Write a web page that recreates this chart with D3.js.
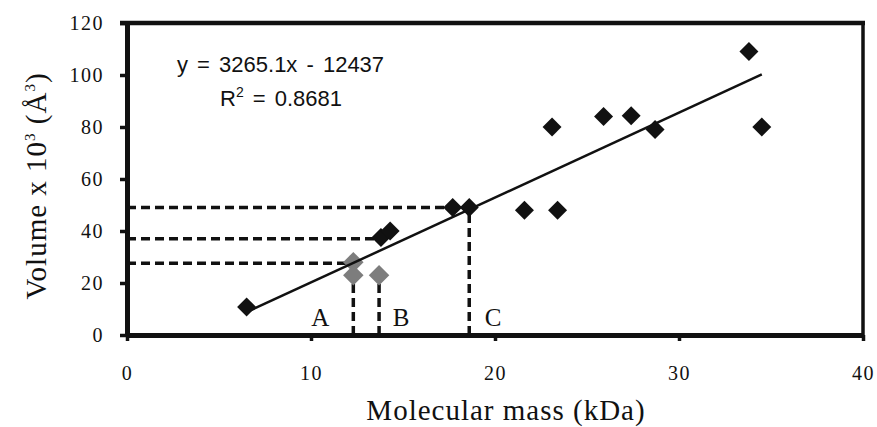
<!DOCTYPE html>
<html lang="en">
<head>
  <meta charset="UTF-8">
  <title>Volume vs molecular mass</title>
  <style>
    body { margin: 0; background: #fff; }
    svg text { fill: #111; }
  </style>
</head>
<body>
  <div id="chart"></div>

  <script src="https://d3js.org/d3.v7.min.js"></script>

  <script>
    // black diamonds
    const massBlack = [6.5, 13.8, 14.3, 17.7, 18.6, 21.6, 23.4, 23.1, 25.9, 27.4, 28.7, 33.8, 34.5];
    const volBlack  = [10.8, 37.5, 40, 49, 49, 48, 48, 80, 84, 84.3, 79, 109, 80];
    // grey diamonds (A / B proteins)
    const massGrey = [12.3, 12.3, 13.7];
    const volGrey  = [28, 23, 23];

    // trend line coefficients (per 10^3 A^3) and its x range
    const slope = 3.2651;
    const intercept = -12.437;
    const trendRange = [6.5, 34.5];

    // dashed guide lines
    const hGuides = [ { y: 49, x: 18.6 }, { y: 37, x: 13.8 }, { y: 27.6, x: 12.3 } ];
    const vGuides = [ { x: 12.3, y: 23 }, { x: 13.7, y: 23 }, { x: 18.6, y: 49 } ];

    const letters = ['A', 'B', 'C'];
    const letterX = [10.5, 14.9, 19.9];

    const xTicks = [0, 10, 20, 30, 40];
    const yTicks = [0, 20, 40, 60, 80, 100, 120];

    const width = 877, height = 427;
    const svg = d3.select('#chart').append('svg')
      .attr('width', width).attr('height', height);

    const x = d3.scaleLinear().domain([0, 40]).range([127, 863]);
    const y = d3.scaleLinear().domain([0, 120]).range([335, 23]);

    // frame: top and right borders
    svg.append('line')
      .attr('x1', x(0) - 7).attr('x2', x(40) + 2)
      .attr('y1', y(120)).attr('y2', y(120))
      .attr('stroke', '#111').attr('stroke-width', 4.5);
    svg.append('line')
      .attr('x1', x(40)).attr('x2', x(40))
      .attr('y1', y(120)).attr('y2', y(0))
      .attr('stroke', '#111').attr('stroke-width', 3.5);

    // axes
    const xAxis = svg.append('g')
      .attr('transform', `translate(0,${y(0)})`)
      .call(d3.axisBottom(x).tickValues(xTicks).tickSize(6).tickSizeOuter(0)
        .tickPadding(25).tickFormat(d3.format('d')));
    const yAxis = svg.append('g')
      .attr('transform', `translate(${x(0)},0)`)
      .call(d3.axisLeft(y).tickValues(yTicks).tickSize(7).tickSizeOuter(0)
        .tickPadding(16).tickFormat(d3.format('d')));

    [xAxis, yAxis].forEach(g => {
      g.select('.domain').attr('stroke', '#111').style('stroke-width', '5px');
      g.selectAll('.tick line').attr('stroke', '#111').style('stroke-width', '3.5px');
      g.selectAll('.tick text')
        .style('font-family', '"Liberation Serif", serif')
        .style('font-size', '20px')
        .style('letter-spacing', '1.5px')
        .attr('fill', '#111');
    });

    // dashed guides
    svg.append('g').selectAll('line.h')
      .data(hGuides).join('line')
      .attr('x1', x(0)).attr('x2', d => x(d.x))
      .attr('y1', d => y(d.y)).attr('y2', d => y(d.y))
      .attr('stroke', '#111').attr('stroke-width', 3.5)
      .attr('stroke-dasharray', '9,5');
    svg.append('g').selectAll('line.v')
      .data(vGuides).join('line')
      .attr('x1', d => x(d.x)).attr('x2', d => x(d.x))
      .attr('y1', y(0)).attr('y2', d => y(d.y))
      .attr('stroke', '#111').attr('stroke-width', 3.5)
      .attr('stroke-dasharray', '9,5');

    // diamond marker: rotated square
    const diamond = d3.symbol().type(d3.symbolSquare).size(180);
    const diamondGrey = d3.symbol().type(d3.symbolSquare).size(210);

    svg.append('g').selectAll('path')
      .data(d3.zip(massGrey, volGrey)).join('path')
      .attr('d', diamondGrey)
      .attr('transform', d => `translate(${x(d[0])},${y(d[1])}) rotate(45)`)
      .attr('fill', '#7d7d7d');

    // trend line
    svg.append('path')
      .datum(trendRange.map(m => [m, slope * m + intercept]))
      .attr('d', d3.line().x(d => x(d[0])).y(d => y(d[1])))
      .attr('stroke', '#111').attr('stroke-width', 2.5).attr('fill', 'none');

    svg.append('g').selectAll('path')
      .data(d3.zip(massBlack, volBlack)).join('path')
      .attr('d', diamond)
      .attr('transform', d => `translate(${x(d[0])},${y(d[1])}) rotate(45)`)
      .attr('fill', '#111');

    // A B C labels
    svg.append('g').selectAll('text')
      .data(letters).join('text')
      .attr('x', (d, i) => x(letterX[i]))
      .attr('y', y(3.3))
      .attr('text-anchor', 'middle')
      .style('font-family', '"Liberation Serif", serif')
      .style('font-size', '25px')
      .text(d => d);

    // equation
    const eq = svg.append('g')
      .style('font-family', '"Liberation Sans", Arial, sans-serif')
      .style('font-size', '22px');
    eq.append('text').attr('x', 177).attr('y', 72)
      .style('word-spacing', '3px')
      .text('y = 3265.1x - 12437');
    const r2 = eq.append('text').attr('x', 220).attr('y', 106)
      .style('word-spacing', '3px');
    r2.append('tspan').text('R');
    r2.append('tspan').attr('dy', -9).style('font-size', '14px').text('2');
    r2.append('tspan').attr('dy', 9).text(' = 0.8681');

    // axis titles
    svg.append('text')
      .attr('x', 506).attr('y', 420)
      .attr('text-anchor', 'middle')
      .style('font-family', '"Liberation Serif", serif')
      .style('font-size', '29px')
      .style('letter-spacing', '1px')
      .text('Molecular mass (kDa)');

    const yt = svg.append('text')
      .attr('transform', 'translate(46,186) rotate(-90)')
      .attr('text-anchor', 'middle')
      .style('font-family', '"Liberation Serif", serif')
      .style('font-size', '29px')
      .style('letter-spacing', '1px');
    yt.append('tspan').text('Volume x 10');
    yt.append('tspan').attr('dy', -11).style('font-size', '15px').text('3');
    yt.append('tspan').attr('dy', 11).text(' (Å');
    yt.append('tspan').attr('dy', -11).style('font-size', '15px').text('3');
    yt.append('tspan').attr('dy', 11).text(')');
  </script>
</body>
</html>
